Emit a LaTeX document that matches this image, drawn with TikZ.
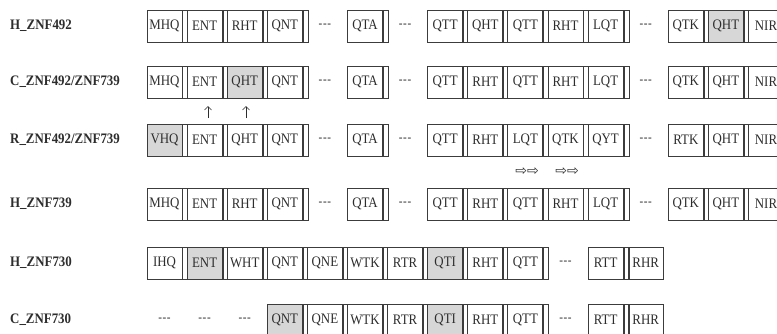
\documentclass[tikz,border=0pt]{standalone}
\usepackage{fontspec}
\setmainfont{Liberation Serif}[FakeStretch=0.89]
\newfontfamily\symf{DejaVu Sans}
\usetikzlibrary{arrows.meta}
\definecolor{ln}{RGB}{60,60,60}
\definecolor{tx}{RGB}{45,45,45}
\definecolor{sh}{RGB}{215,215,215}
\tikzset{
  cell/.style={draw=ln, line width=0.9pt, minimum width=35pt, minimum height=32pt,
    inner sep=0pt, text=tx, font=\fontsize{14.5}{16}\selectfont},
  strip/.style={draw=ln, line width=0.9pt, minimum width=5.1pt, minimum height=32pt,
    inner sep=0pt, anchor=west},
  dsh/.style={text=tx, inner sep=0pt, font=\fontsize{12.5}{14}\selectfont},
  lab/.style={anchor=west, inner sep=0pt, text=tx, font=\fontsize{14.5}{16}\selectfont\bfseries},
  uparr/.style={draw=tx, line width=0.7pt, -{Straight Barb[length=3.5pt,width=7pt]}},
  warr/.style={text=tx, inner sep=0pt, font=\symf\fontsize{14}{14}\selectfont}
}
\newcommand\dashes{-\kern.6pt-\kern.6pt-}
\begin{document}
\begin{tikzpicture}[x=1pt,y=-1pt]
\useasboundingbox (0,0) rectangle (777,333);
\fill[white] (0,0) rectangle (777,333);
\clip (0,0) rectangle (777,333);

% labels
\node[lab] (L1) at (10,26)  {H\_ZNF492};
\node[lab] (L2) at (10,82)  {C\_ZNF492/ZNF739};
\node[lab] (L3) at (10,140) {R\_ZNF492/ZNF739};
\node[lab] (L4) at (10,204) {H\_ZNF739};
\node[lab] (L5) at (10,263) {H\_ZNF730};
\node[lab] (L6) at (10,320) {C\_ZNF730};

% row 1
\foreach \i/\t/\f in {0/MHQ/white,1/ENT/white,2/RHT/white,3/QNT/white,5/QTA/white,
  7/QTT/white,8/QHT/white,9/QTT/white,10/RHT/white,11/LQT/white,
  13/QTK/white,14/QHT/sh,15/NIR/white}{
  \node[cell,fill=\f] (r1u\i) at ({147+\i*40.1+17.5},26) {\t};
  \node[strip] (r1s\i) at (r1u\i.east) {};
}
\foreach \i in {4,6,12}{\node[dsh] (r1d\i) at ({147+\i*40.1+17.5},26) {\dashes};}

% row 2
\foreach \i/\t/\f in {0/MHQ/white,1/ENT/white,2/QHT/sh,3/QNT/white,5/QTA/white,
  7/QTT/white,8/RHT/white,9/QTT/white,10/RHT/white,11/LQT/white,
  13/QTK/white,14/QHT/white,15/NIR/white}{
  \node[cell,fill=\f] (r2u\i) at ({147+\i*40.1+17.5},82) {\t};
  \node[strip] (r2s\i) at (r2u\i.east) {};
}
\foreach \i in {4,6,12}{\node[dsh] (r2d\i) at ({147+\i*40.1+17.5},82) {\dashes};}

% row 3
\foreach \i/\t/\f in {0/VHQ/sh,1/ENT/white,2/QHT/white,3/QNT/white,5/QTA/white,
  7/QTT/white,8/RHT/white,9/LQT/white,10/QTK/white,11/QYT/white,
  13/RTK/white,14/QHT/white,15/NIR/white}{
  \node[cell,fill=\f] (r3u\i) at ({147+\i*40.1+17.5},140) {\t};
  \node[strip] (r3s\i) at (r3u\i.east) {};
}
\foreach \i in {4,6,12}{\node[dsh] (r3d\i) at ({147+\i*40.1+17.5},140) {\dashes};}

% row 4
\foreach \i/\t/\f in {0/MHQ/white,1/ENT/white,2/RHT/white,3/QNT/white,5/QTA/white,
  7/QTT/white,8/RHT/white,9/QTT/white,10/RHT/white,11/LQT/white,
  13/QTK/white,14/QHT/white,15/NIR/white}{
  \node[cell,fill=\f] (r4u\i) at ({147+\i*40.1+17.5},204) {\t};
  \node[strip] (r4s\i) at (r4u\i.east) {};
}
\foreach \i in {4,6,12}{\node[dsh] (r4d\i) at ({147+\i*40.1+17.5},204) {\dashes};}

% row 5
\foreach \i/\t/\f in {0/IHQ/white,1/ENT/sh,2/WHT/white,3/QNT/white,4/QNE/white,
  5/WTK/white,6/RTR/white,7/QTI/sh,8/RHT/white,9/QTT/white,11/RTT/white}{
  \node[cell,fill=\f] (r5u\i) at ({147+\i*40.1+17.5},263) {\t};
  \node[strip] (r5s\i) at (r5u\i.east) {};
}
\node[cell] (r5u12) at ({147+12*40.1+17.5},263) {RHR};
\node[dsh] (r5d10) at ({147+10*40.1+17.5},263) {\dashes};

% row 6
\foreach \i/\t/\f in {3/QNT/sh,4/QNE/white,
  5/WTK/white,6/RTR/white,7/QTI/sh,8/RHT/white,9/QTT/white,11/RTT/white}{
  \node[cell,fill=\f] (r6u\i) at ({147+\i*40.1+17.5},320) {\t};
  \node[strip] (r6s\i) at (r6u\i.east) {};
}
\node[cell] (r6u12) at ({147+12*40.1+17.5},320) {RHR};
\foreach \i in {0,1,2,10}{\node[dsh] (r6d\i) at ({147+\i*40.1+17.5},320) {\dashes};}

% up arrows between rows 2 and 3
\coordinate (a1s) at (208,118); \coordinate (a1e) at (208,106);
\coordinate (a2s) at (246,118); \coordinate (a2e) at (246,106);
\draw[uparr] (a1s) -- (a1e);
\draw[uparr] (a2s) -- (a2e);

% white right arrows between rows 3 and 4
\node[warr] (w1) at (527,172) {⇨⇨};
\node[warr] (w2) at (567,172) {⇨⇨};
\end{tikzpicture}
\end{document}
